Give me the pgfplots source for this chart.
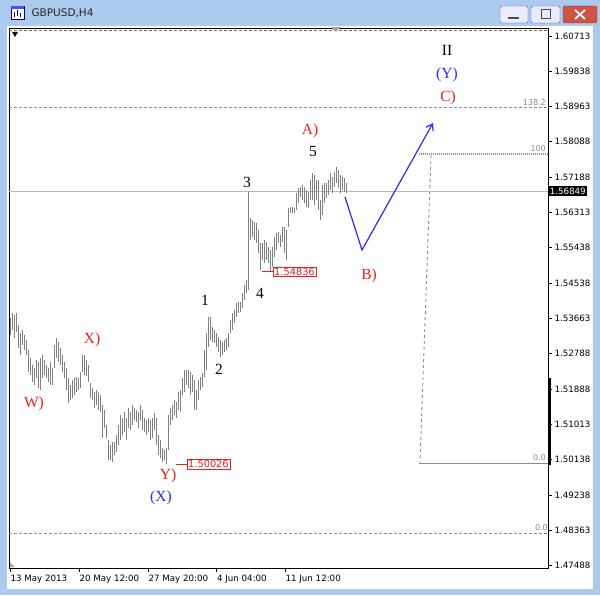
\documentclass[border=0pt]{standalone}
\usepackage{pgfplots}
\pgfplotsset{compat=1.18}
\usepackage{pgfplotstable}
\usepackage{fontspec}
\setmainfont{Liberation Serif}
\newfontfamily\uifont{DejaVu Sans}
\usetikzlibrary{arrows.meta}
\definecolor{winblue}{RGB}{172,202,238}
\definecolor{barcol}{RGB}{128,128,128}
\definecolor{wred}{RGB}{238,30,30}
\definecolor{wblue}{RGB}{45,45,235}
\definecolor{fibgray}{RGB}{140,140,140}
\definecolor{curline}{RGB}{185,185,185}

\pgfplotstableread{
i lo hi
0 1.53255 1.5368
1 1.5338 1.53805
2 1.5318 1.53755
3 1.5333 1.53805
4 1.5293 1.53505
5 1.52755 1.53305
6 1.53005 1.5338
7 1.5288 1.53255
8 1.52755 1.5313
9 1.5233 1.5288
10 1.52255 1.5268
11 1.5208 1.52505
12 1.52005 1.5243
13 1.5218 1.5263
14 1.5193 1.5258
15 1.5188 1.5268
16 1.5218 1.52755
17 1.52255 1.5263
18 1.5218 1.52505
19 1.5208 1.5243
20 1.52005 1.5258
21 1.52005 1.5243
22 1.5243 1.53005
23 1.5268 1.5318
24 1.5258 1.5308
25 1.52505 1.5293
26 1.5233 1.52755
27 1.5218 1.5258
28 1.5188 1.5243
29 1.51555 1.5218
30 1.5163 1.52005
31 1.5168 1.5213
32 1.51755 1.5218
33 1.5183 1.52205
34 1.5188 1.5218
35 1.5193 1.5233
36 1.5233 1.52755
37 1.52255 1.52755
38 1.5223 1.5263
39 1.5208 1.52505
40 1.5168 1.52055
41 1.5163 1.5193
42 1.5143 1.5183
43 1.51505 1.5188
44 1.5138 1.5183
45 1.5133 1.51755
46 1.5068 1.51505
47 1.5093 1.5138
48 1.5068 1.51005
49 1.5013 1.5063
50 1.5013 1.50505
51 1.5008 1.5058
52 1.50255 1.5058
53 1.5033 1.50755
54 1.50505 1.51005
55 1.5063 1.51255
56 1.50755 1.5118
57 1.5083 1.5133
58 1.5063 1.5118
59 1.5093 1.5143
60 1.5088 1.5133
61 1.51005 1.51505
62 1.5113 1.5143
63 1.5108 1.5138
64 1.5093 1.5133
65 1.5113 1.51505
66 1.5088 1.5138
67 1.5083 1.5118
68 1.50755 1.5113
69 1.5083 1.5118
70 1.5063 1.5113
71 1.5068 1.5118
72 1.5088 1.51305
73 1.50505 1.5118
74 1.50255 1.50755
75 1.5018 1.5063
76 1.5008 1.5043
77 1.5013 1.5038
78 1.50026 1.5043
79 1.5038 1.51255
80 1.51005 1.5143
81 1.5113 1.51505
82 1.51255 1.5163
83 1.5118 1.5158
84 1.5138 1.5183
85 1.5133 1.5188
86 1.51755 1.5218
87 1.5183 1.5238
88 1.52005 1.5238
89 1.5193 1.5238
90 1.51755 1.5233
91 1.5183 1.52255
92 1.5138 1.5213
93 1.5138 1.5188
94 1.5163 1.5213
95 1.5188 1.52205
96 1.51955 1.52305
97 1.52205 1.5288
98 1.5238 1.53305
99 1.52955 1.53705
100 1.5313 1.53705
101 1.5308 1.53455
102 1.53055 1.5338
103 1.52955 1.53305
104 1.5283 1.53205
105 1.52705 1.5313
106 1.52755 1.5308
107 1.5283 1.5313
108 1.5288 1.5318
109 1.52955 1.53305
110 1.53305 1.5363
111 1.5338 1.53805
112 1.53555 1.5388
113 1.53705 1.54055
114 1.53805 1.5408
115 1.5383 1.5408
116 1.5393 1.54305
117 1.5413 1.54505
118 1.54305 1.5463
119 1.5438 1.5685
120 1.5563 1.5618
121 1.55705 1.5613
122 1.5563 1.5608
123 1.5556 1.56055
124 1.55305 1.5588
125 1.5488 1.55555
126 1.5513 1.55555
127 1.55055 1.5563
128 1.5513 1.5558
129 1.55055 1.55455
130 1.54836 1.5538
131 1.54955 1.55455
132 1.55205 1.55705
133 1.5538 1.55805
134 1.55555 1.5583
135 1.55455 1.55755
136 1.5558 1.55955
137 1.55305 1.55955
138 1.5513 1.5588
139 1.55955 1.5643
140 1.56305 1.56455
141 1.56305 1.56455
142 1.56305 1.5643
143 1.5638 1.56805
144 1.56555 1.5693
145 1.56705 1.56955
146 1.5663 1.57005
147 1.56555 1.56955
148 1.5646 1.5688
149 1.5643 1.5683
150 1.5663 1.5713
151 1.5663 1.57305
152 1.56505 1.57255
153 1.5663 1.5713
154 1.5638 1.5713
155 1.5613 1.5663
156 1.5626 1.57005
157 1.56555 1.57055
158 1.5668 1.57055
159 1.56755 1.5713
160 1.5688 1.57305
161 1.56805 1.57205
162 1.56955 1.5733
163 1.57055 1.57455
164 1.5693 1.5738
165 1.56805 1.57255
166 1.5688 1.57205
167 1.5683 1.5718
168 1.5680 1.57055
}\bars

\begin{document}
\begin{tikzpicture}[x=1pt,y=1pt]
\path[use as bounding box, fill=winblue] (0,0) rectangle (600,595);
\fill[white] (7,6) rectangle (593,569);
% title bar
\fill[white] (11,576) rectangle (24,589);
\draw[blue!60!black, line width=0.6pt] (11,576) rectangle (24,589);
\fill[blue!70] (11,586) rectangle (24,589);
\draw[blue!70!black, line width=0.8pt] (14,578) -- (14,583) (17,579) -- (17,585) (20,578) -- (20,582);
\node[anchor=west, font=\uifont\fontsize{10.5}{12}\selectfont, text=black!85] at (28,582) {GBPUSD,H4};
\draw[rounded corners=2pt, fill=blue!8, draw=blue!40!gray] (500,572) rectangle (528,589);
\draw[line width=1.6pt, black!70] (508,577) -- (519,577);
\draw[rounded corners=2pt, fill=blue!8, draw=blue!40!gray] (531,572) rectangle (560,589);
\draw[line width=1pt, black!70] (541,576) rectangle (550,585);
\draw[rounded corners=2pt, fill={rgb,255:red,205;green,85;blue,70}, draw={rgb,255:red,150;green,60;blue,50}] (563,572) rectangle (597,589);
\draw[line width=1.8pt, white] (575,576) -- (585,585) (575,585) -- (585,576);

\begin{axis}[
  at={(9pt,27pt)}, anchor=south west,
  scale only axis, width=539pt, height=540pt,
  xmin=-0.5, xmax=269, ymin=1.4743, ymax=1.6093,
  clip=false,
  axis line style={black, line width=0.9pt},
  tick align=outside, major tick length=4pt,
  tick style={black, line width=0.8pt},
  xtick pos=left, ytick pos=right, yticklabel pos=right,
  xtick={0,34.5,69,103.25,137.5},
  xticklabels={13 May 2013, 20 May 12:00, 27 May 20:00, 4 Jun 04:00, 11 Jun 12:00},
  xticklabel style={anchor=north west, xshift=-3pt, font=\uifont\fontsize{8.7}{10}\selectfont},
  ytick={1.60713,1.59838,1.58963,1.58088,1.57188,1.56313,1.55438,1.54538,1.53663,1.52788,1.51888,1.51013,1.50138,1.49238,1.48363,1.47488},
  yticklabels={1.60713,1.59838,1.58963,1.58088,1.57188,1.56313,1.55438,1.54538,1.53663,1.52788,1.51888,1.51013,1.50138,1.49238,1.48363,1.47488},
  yticklabel style={anchor=west, xshift=-1pt, font=\uifont\fontsize{8.7}{10}\selectfont},
]
% fib / level lines
\addplot[fibgray!80!black, line width=0.8pt, dash pattern=on 3pt off 2pt] coordinates {(-0.5,1.6088) (269,1.6088)};
\addplot[fibgray, line width=0.8pt, dash pattern=on 3pt off 2pt] coordinates {(-0.5,1.58955) (269,1.58955)};
\addplot[fibgray, line width=0.8pt, dash pattern=on 3pt off 2pt] coordinates {(-0.5,1.48305) (269,1.48305)};
\addplot[fibgray, line width=1.3pt, dash pattern=on 1pt off 1pt] coordinates {(204.5,1.5778) (269,1.5778)};
\addplot[fibgray, line width=0.9pt, dash pattern=on 3pt off 3pt] coordinates {(210.5,1.5775) (205,1.5008)};
\addplot[fibgray, line width=1pt] coordinates {(204.5,1.50055) (269,1.50055)};
\addplot[curline, line width=0.8pt] coordinates {(-0.5,1.56849) (269,1.56849)};
% bars
\addplot[draw=none, forget plot, error bars/.cd, y dir=plus, y explicit, error mark=none,
  error bar style={barcol, line width=0.95pt}]
  table[x=i, y=lo, y error expr=\thisrow{hi}-\thisrow{lo}] {\bars};
% projection
\addplot[wblue, line width=1.2pt, -{Straight Barb[length=6pt,width=8pt]}] coordinates {(167.5,1.56705) (176,1.5538) (211.5,1.58555)};
% price boxes
\addplot[wred, line width=0.8pt] coordinates {(126,1.54836) (131.5,1.54836)};
\addplot[wred, line width=0.8pt] coordinates {(83,1.50026) (88.5,1.50026)};
\node[draw=wred, fill=white, text=wred, font=\uifont\fontsize{9.8}{11}\selectfont, inner sep=1pt, anchor=west] at (axis cs:131.5,1.54836) {1.54836};
\node[draw=wred, fill=white, text=wred, font=\uifont\fontsize{9.8}{11}\selectfont, inner sep=1pt, anchor=west] at (axis cs:88.5,1.50026) {1.50026};
% level labels
\node[anchor=south east, text=fibgray, font=\uifont\fontsize{8}{9}\selectfont, inner sep=1pt] at (axis cs:268.5,1.58955) {138.2};
\node[anchor=south east, text=fibgray, font=\uifont\fontsize{8}{9}\selectfont, inner sep=1pt] at (axis cs:268.5,1.5780) {100};
\node[anchor=south east, text=fibgray, font=\uifont\fontsize{8}{9}\selectfont, inner sep=1pt] at (axis cs:268.5,1.50075) {0.0};
\node[anchor=south east, text=fibgray, font=\uifont\fontsize{8}{9}\selectfont, inner sep=1pt] at (axis cs:269.5,1.48325) {0.0};
% current price label
\node[fill=black, text=white, font=\uifont\fontsize{8.7}{10}\selectfont, inner sep=1.6pt, anchor=west] at (axis cs:269,1.56849) {1.56849};
\draw[black, line width=3.5pt] ([xshift=1.5pt]axis cs:269,1.5218) -- ([xshift=1.5pt]axis cs:269,1.50005);
% wave labels
\begin{scope}[every node/.style={font=\fontsize{15.5}{16}\selectfont, inner sep=0pt}]
\node[text=black] at (axis cs:218.5,1.6038) {II};
\node[text=wblue] at (axis cs:218.5,1.59755) {(Y)};
\node[text=wred] at (axis cs:219,1.5918) {C)};
\node[text=wred] at (axis cs:150,1.58355) {A)};
\node[text=black] at (axis cs:151.5,1.5783) {5};
\node[text=black] at (axis cs:118.5,1.5708) {3};
\node[text=black] at (axis cs:125,1.54305) {4};
\node[text=black] at (axis cs:97.5,1.5413) {1};
\node[text=black] at (axis cs:104.5,1.52405) {2};
\node[text=wred] at (axis cs:179.5,1.5473) {B)};
\node[text=wred] at (axis cs:41,1.5313) {X)};
\node[text=wred] at (axis cs:12,1.5153) {W)};
\node[text=wred] at (axis cs:79,1.4973) {Y)};
\node[text=wblue] at (axis cs:75.5,1.4918) {(X)};
\end{scope}
\end{axis}
% small markers
\fill[black] (12,563) -- (18,563) -- (15,558) -- cycle;
\fill[black!35] (331,568) -- (341,568) -- (336,563) -- cycle;
\fill[black!35] (10,28) -- (10,33) -- (15,28) -- cycle;
\end{tikzpicture}
\end{document}
